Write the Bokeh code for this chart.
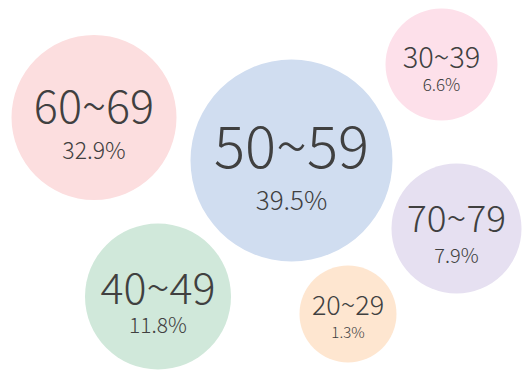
from bokeh.plotting import figure
from bokeh.models import ColumnDataSource, Range1d
from bokeh.core.properties import value
from bokeh.embed import file_html
from bokeh.resources import INLINE

# data
groups = ["60~69", "50~59", "30~39", "70~79", "40~49", "20~29"]
shares = [32.9, 39.5, 6.6, 7.9, 11.8, 1.3]

# layout (pixel coordinates of the reference)
cx = [93.5, 291, 441, 456, 157.5, 347.5]
cy = [117, 160, 64, 228, 296, 313.5]
rad = [82.5, 101, 56, 65, 73, 48.5]
label_base = [120, 165, 66, 229.5, 301, 313]
pct_base = [157.5, 208, 89, 262, 331, 337]
label_px = [45, 58, 29, 37, 43, 27]
pct_px = [23, 26, 17, 20, 21, 15]
colors = ["#fcdedf", "#d0ddf0", "#fde0ea", "#e6e0f1", "#d0e8da", "#fee6d0"]
FONT = "Noto Sans CJK KR Light"
K = 0.38  # baseline correction

src = ColumnDataSource(dict(
    x=cx, y=cy, r=rad, color=colors,
    label=groups,
    pct=[f"{s:.1f}%" for s in shares],
    ly=[b - K * f for b, f in zip(label_base, label_px)],
    py=[b - K * f for b, f in zip(pct_base, pct_px)],
    lfs=[f"{f}px" for f in label_px], pfs=[f"{f}px" for f in pct_px],
))

p = figure(width=522, height=370, output_backend="svg", toolbar_location=None,
           x_range=Range1d(0, 522), y_range=Range1d(370, 0),
           min_border=0, outline_line_color=None)
p.axis.visible = False
p.grid.visible = False

p.circle(x="x", y="y", radius="r", source=src, fill_color="color", line_color=None)
p.text(x="x", y="ly", text="label", source=src, text_align="center",
       text_baseline="alphabetic", text_font=value(FONT), text_font_size="lfs",
       text_color="#404040")
p.text(x="x", y="py", text="pct", source=src, text_align="center",
       text_baseline="alphabetic", text_font=value(FONT), text_font_size="pfs",
       text_color="#404040")

open("out.html", "w").write(file_html(p, INLINE))
